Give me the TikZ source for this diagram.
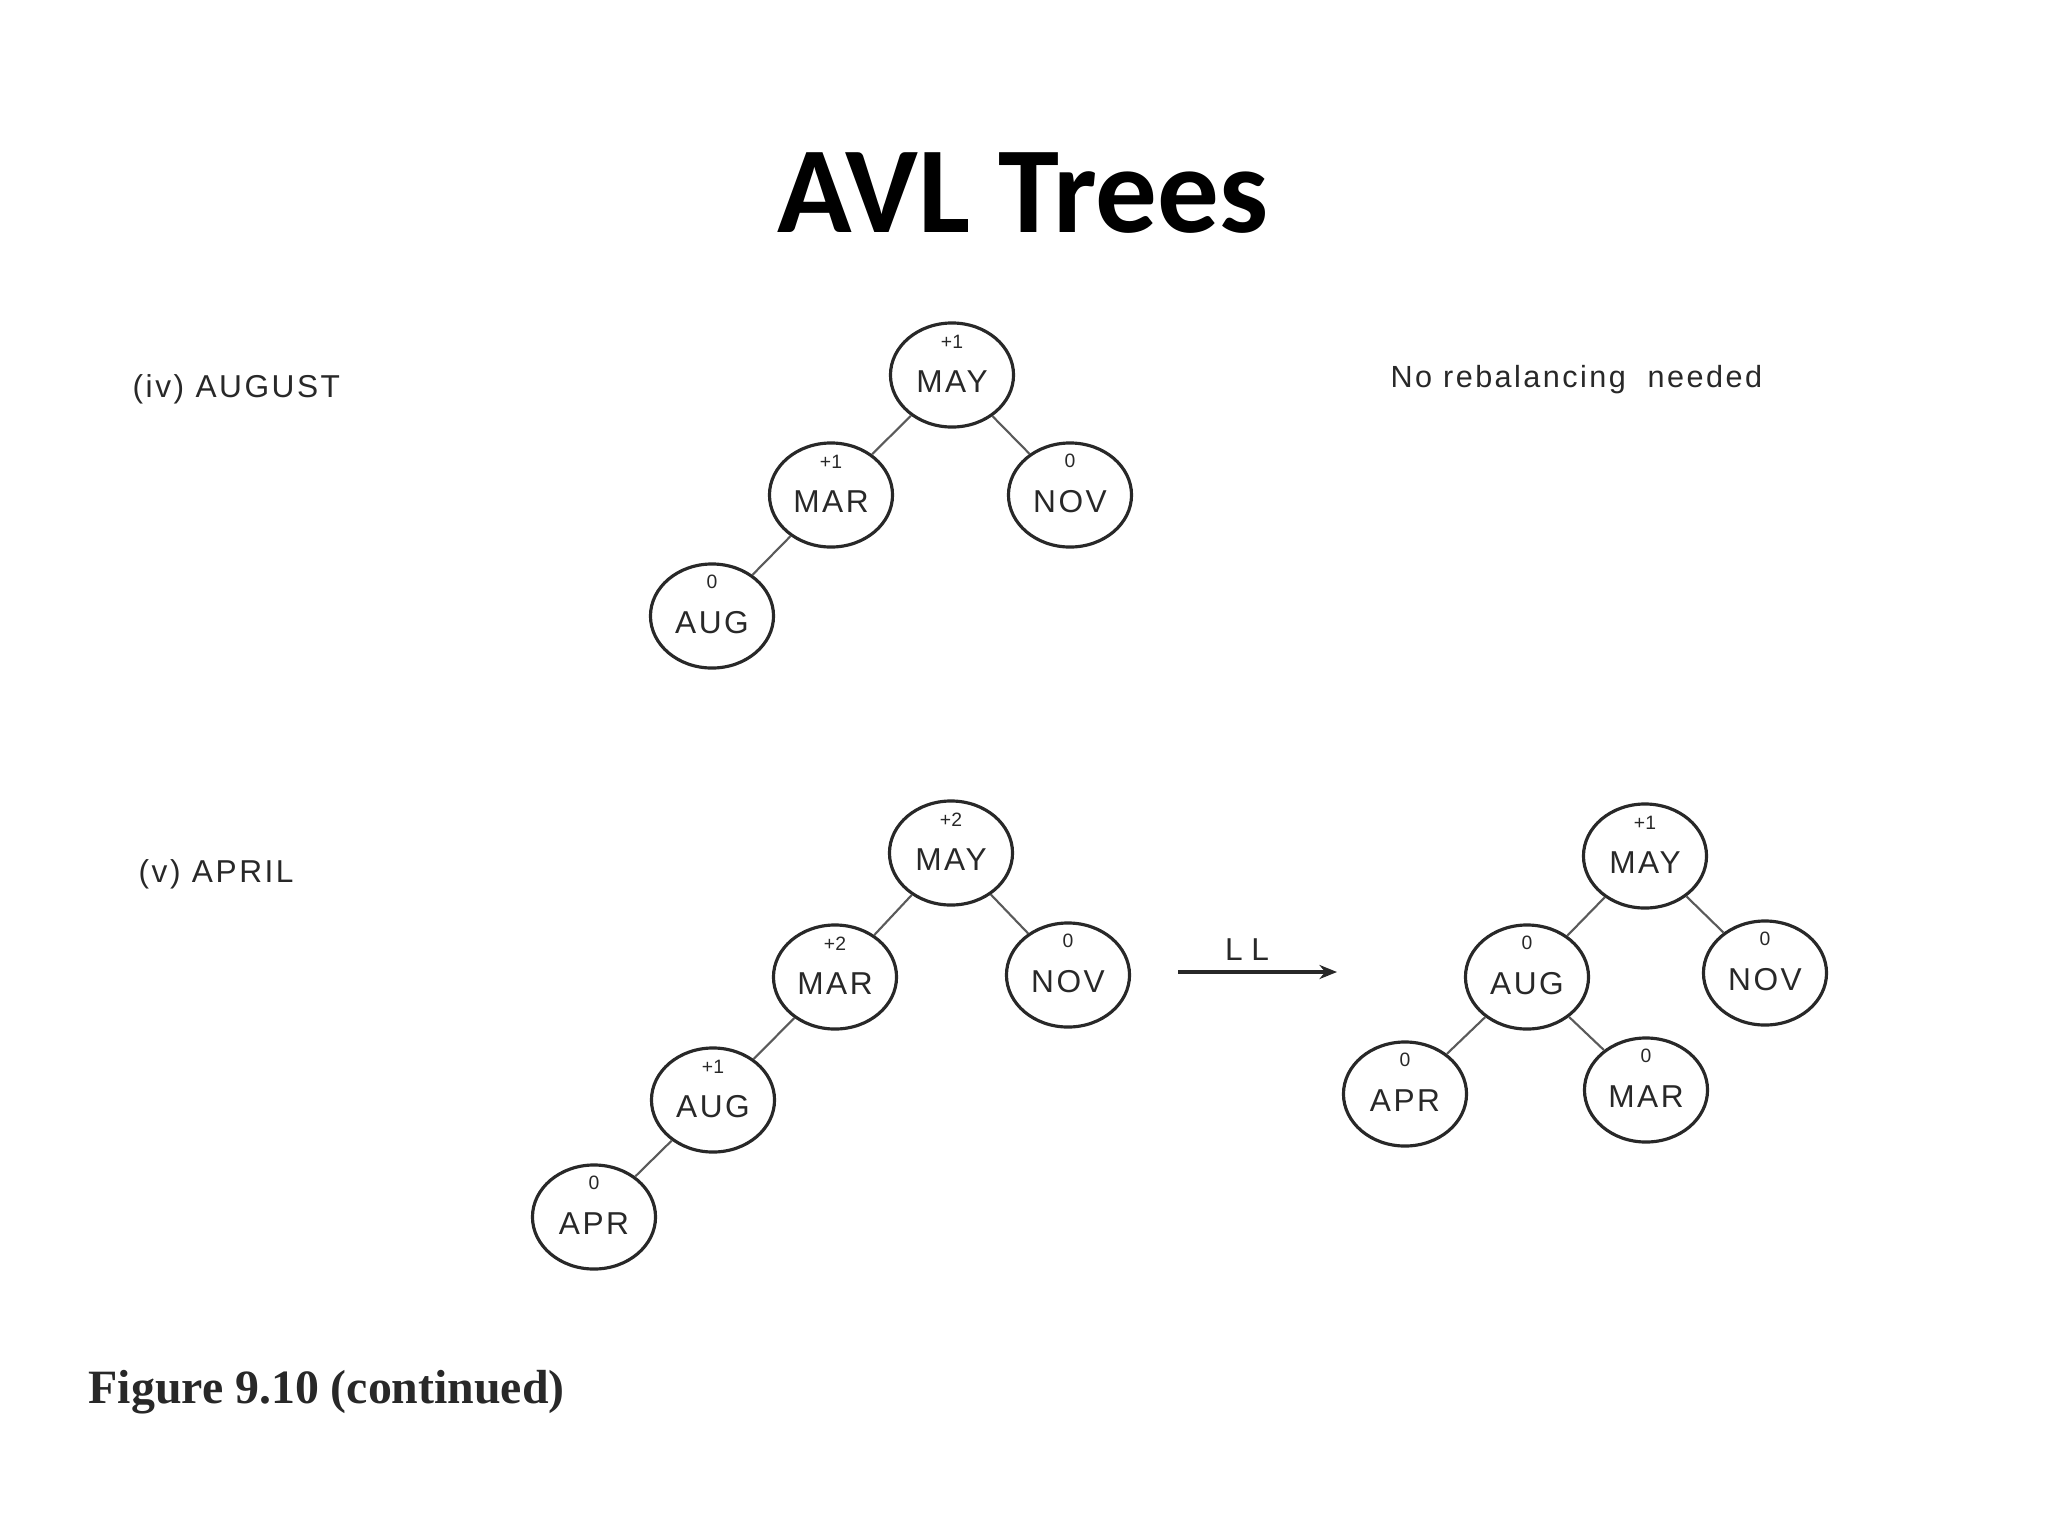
\documentclass[tikz,border=0pt]{standalone}
\usepackage{fontspec}
\usepackage{xcolor}
\usepackage{tikz}
\usetikzlibrary{shapes.geometric, arrows.meta, positioning}
\setmainfont{Liberation Sans}
\newfontfamily\letterfont[LetterSpace=8]{Liberation Sans}
\newfontfamily\titlefont{Carlito}
\newfontfamily\captionfont{Liberation Serif}
\definecolor{inkdark}{RGB}{40, 40, 40}
\definecolor{inkedge}{RGB}{90, 90, 90}

\begin{document}
\begin{tikzpicture}[
    x=0.01cm, y=-0.01cm,
    tnode/.style={ellipse, draw=inkdark, line width=0.9pt, minimum width=1.23cm, minimum height=1.04cm,
      inner sep=0pt, font=\letterfont\fontsize{9}{10}\selectfont, text=inkdark, text height=10.2pt, text depth=0pt},
    bf/.style={label={[font=\fontsize{5.5}{6}\selectfont, text=inkdark, inner sep=0pt, label distance=-7.8pt]90:#1}},
    edge/.style={line width=0.6pt, inkedge},
    lbl/.style={anchor=base west, inner sep=0pt, font=\letterfont\fontsize{9}{10}\selectfont, text=inkdark}
  ]
  \useasboundingbox (0,0) rectangle (2048,1536);

  % Title
  \node[font=\titlefont\bfseries\fontsize{35}{40}\selectfont] (title) at (1023,193) {AVL Trees};

  % (iv) August
  \node[lbl] (lab4) at (132,397) {(iv) AUGUST};
  \node[lbl, font=\letterfont\fontsize{8.7}{10}\selectfont] (note4) at (1390,387) {No rebalancing\ \ needed};
  \node[tnode, bf={+1}] (may1) at (952,375) {MAY};
  \node[tnode, bf={+1}] (mar1) at (831,495) {MAR};
  \node[tnode, bf={0}] (nov1) at (1070,495) {NOV};
  \node[tnode, bf={0}] (aug1) at (712,616) {AUG};

  \draw[edge] (may1) -- (mar1);
  \draw[edge] (may1) -- (nov1);
  \draw[edge] (mar1) -- (aug1);

  % (v) April, before rotation
  \node[lbl] (lab5) at (138,882) {(v) APRIL};
  \node[tnode, bf={+2}] (may2) at (951,853) {MAY};
  \node[tnode, bf={+2}] (mar2) at (835,977) {MAR};
  \node[tnode, bf={0}] (nov2) at (1068,975) {NOV};
  \node[tnode, bf={+1}] (aug2) at (713,1100) {AUG};
  \node[tnode, bf={0}] (apr2) at (594,1217) {APR};

  \draw[edge] (may2) -- (mar2);
  \draw[edge] (may2) -- (nov2);
  \draw[edge] (mar2) -- (aug2);
  \draw[edge] (aug2) -- (apr2);

  % LL rotation
  \coordinate (llstart) at (1178,972);
  \coordinate (llend) at (1337,972);
  \draw[line width=1pt, inkdark, -{Stealth[length=5pt, width=4pt]}] (llstart) -- (llend);
  \node[anchor=base, font=\fontsize{9}{10}\selectfont, text=inkdark] (ll) at (1247,960) {L L};

  % after rotation
  \node[tnode, bf={+1}] (may3) at (1645,856) {MAY};
  \node[tnode, bf={0}] (aug3) at (1527,977) {AUG};
  \node[tnode, bf={0}] (nov3) at (1765,973) {NOV};
  \node[tnode, bf={0}] (apr3) at (1405,1094) {APR};
  \node[tnode, bf={0}] (mar3) at (1646,1090) {MAR};

  \draw[edge] (may3) -- (aug3);
  \draw[edge] (may3) -- (nov3);
  \draw[edge] (aug3) -- (apr3);
  \draw[edge] (aug3) -- (mar3);

  \node[anchor=base west, inner sep=0pt, font=\captionfont\bfseries\fontsize{13.6}{16}\selectfont, text=inkdark] (cap) at (88,1403) {Figure 9.10 (continued)};
\end{tikzpicture}
\end{document}
